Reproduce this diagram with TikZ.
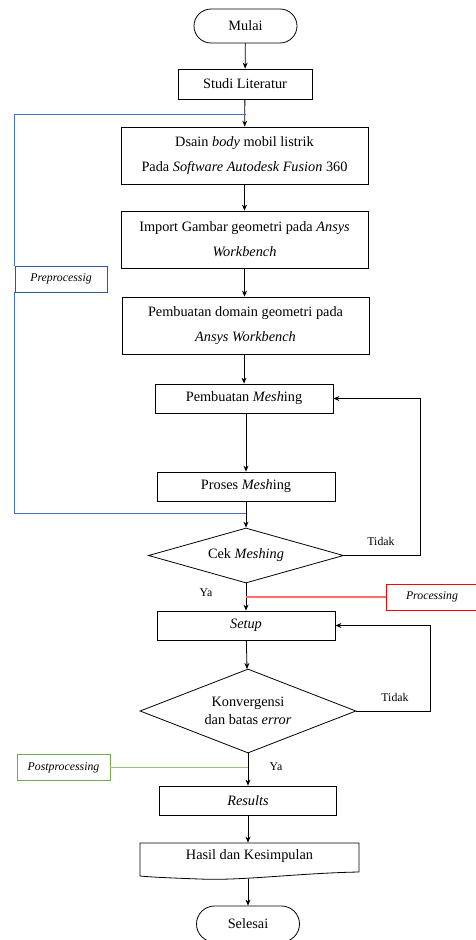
\documentclass[tikz,border=0pt]{standalone}
\usepackage{fontspec}
\setmainfont{Liberation Serif}
\usetikzlibrary{arrows.meta,shapes.geometric,shapes.misc}
\definecolor{bline}{HTML}{4472C4}
\definecolor{bbox}{HTML}{2F5597}
\definecolor{rline}{HTML}{FF6B70}
\definecolor{rbox}{HTML}{FF0000}
\definecolor{gline}{HTML}{93C47D}
\definecolor{gbox}{HTML}{70AD47}
\newcommand{\bigtxt}{\fontsize{14.3}{25}\selectfont}
\newcommand{\smtxt}{\fontsize{11.8}{14}\selectfont}
\begin{document}
\begin{tikzpicture}[x=1pt,y=-1pt, line width=0.8pt,
  >={Stealth[length=6pt,width=5pt]},
  procbox/.style={draw, rectangle, inner sep=0pt, align=center, font=\bigtxt},
  termbox/.style={draw, rounded rectangle, inner sep=0pt, font=\bigtxt,
    minimum width=103pt},
  decbox/.style={draw, diamond, inner sep=0pt, align=center},
  lbl/.style={font=\smtxt, inner sep=0pt},
  tagbox/.style={draw, rectangle, inner sep=0pt, font=\smtxt\itshape,
    minimum height=26pt},
  phase/.style={line width=1.1pt},
  flow/.style={->}]
\useasboundingbox (0,0) rectangle (476,940);

\node[termbox, minimum height=34pt] (mulai) at (245.5,26) {Mulai};
\node[procbox, minimum width=134pt, minimum height=30pt] (studi) at (245,84) {Studi Literatur};
\node[procbox, minimum width=247pt, minimum height=57pt] (dsain) at (244.5,155.5)
  {Dsain \textit{body} mobil listrik\\Pada \textit{Software Autodesk Fusion} 360};
\node[procbox, minimum width=247pt, minimum height=57pt] (import) at (244.5,239.5)
  {Import Gambar geometri pada \textit{Ansys}\\\textit{Workbench}};
\node[procbox, minimum width=247pt, minimum height=57pt] (domain) at (245.5,325.5)
  {Pembuatan domain geometri pada\\\textit{Ansys Workbench}};
\node[procbox, minimum width=178pt, minimum height=29pt] (pmesh) at (244,398.5) {Pembuatan \textit{Mesh}ing};
\node[procbox, minimum width=178pt, minimum height=29pt] (proses) at (246,486.5) {Proses \textit{Mesh}ing};
\node[decbox, aspect=3.55, minimum width=195pt, minimum height=55pt, font=\bigtxt] (cek) at (246,555.5) {Cek \textit{Meshing}};
\node[procbox, minimum width=178pt, minimum height=29pt] (setup) at (246,625.5) {\textit{Setup}};
\node[decbox, aspect=2.57, minimum width=216pt, minimum height=84pt,
  font=\fontsize{14.3}{17.6}\selectfont] (konv) at (248,711) {Konvergensi\\dan batas \textit{error}};
\node[procbox, minimum width=177pt, minimum height=29pt] (results) at (248,800.5) {\textit{Results}};
\node[inner sep=0pt, font=\bigtxt, minimum width=219pt, minimum height=26pt] (hasil) at (249.5,856) {Hasil dan Kesimpulan};
\draw (140,843) -- (359,843) -- (359,872)
  .. controls (300,873) and (240,881) .. (200,879)
  .. controls (170,878) and (150,877) .. (140,876) -- cycle;
\coordinate (hb) at (248,879);
\node[termbox, minimum height=36pt] (selesai) at (248,924) {Selesai};

% side tags
\node[tagbox, draw=bbox, minimum width=92pt] (pre) at (61,279) {Preprocessig};
\node[tagbox, draw=rbox, minimum width=92pt] (procs) at (432,597) {Processing};
\node[tagbox, draw=gbox, minimum width=93pt] (post) at (63.5,767.5) {Postprocessing};

% labels
\node[lbl] (tidak1) at (381,541) {Tidak};
\node[lbl] (ya1) at (206,593) {Ya};
\node[lbl] (tidak2) at (395,697) {Tidak};
\node[lbl] (ya2) at (276,767) {Ya};

% main flow
\draw[flow] (mulai) -- (studi);
\draw[flow] (studi) -- (dsain);
\draw[flow] (dsain) -- (import);
\draw[flow] (import) -- (domain.north -| import.south);
\draw[flow] (pmesh.south -| proses.north) -- (proses);
\draw[flow] (domain.south -| pmesh.north) -- (pmesh);
\draw[flow] (proses) -- (cek);
\draw[flow] (cek) -- (setup);
\draw[flow] (setup) -- (konv);
\draw[flow] (konv) -- (results);
\draw[flow] (hb) -- (selesai);
\draw[flow] (results) -- (results |- hasil.north);

% loops
\coordinate (l1) at (420,0);
\draw[flow] (cek.east) -- (cek.east -| l1) -- (pmesh.east -| l1) -- (pmesh.east);
\coordinate (l2) at (430,0);
\draw[flow] (konv.east) -- (konv.east -| l2) -- (setup.east -| l2) -- (setup.east);

% phase brackets
\coordinate (bj1) at (246,114);
\coordinate (bj2) at (246,513);
\draw[bline] (bj1) -| (pre.north west);
\draw[bline] (pre.south west) |- (bj2);
\draw[rline, phase] (procs.west) -- (procs.west -| cek.south);
\draw[gline, phase] (post.east) -- (post.east -| konv.south);
\end{tikzpicture}
\end{document}
